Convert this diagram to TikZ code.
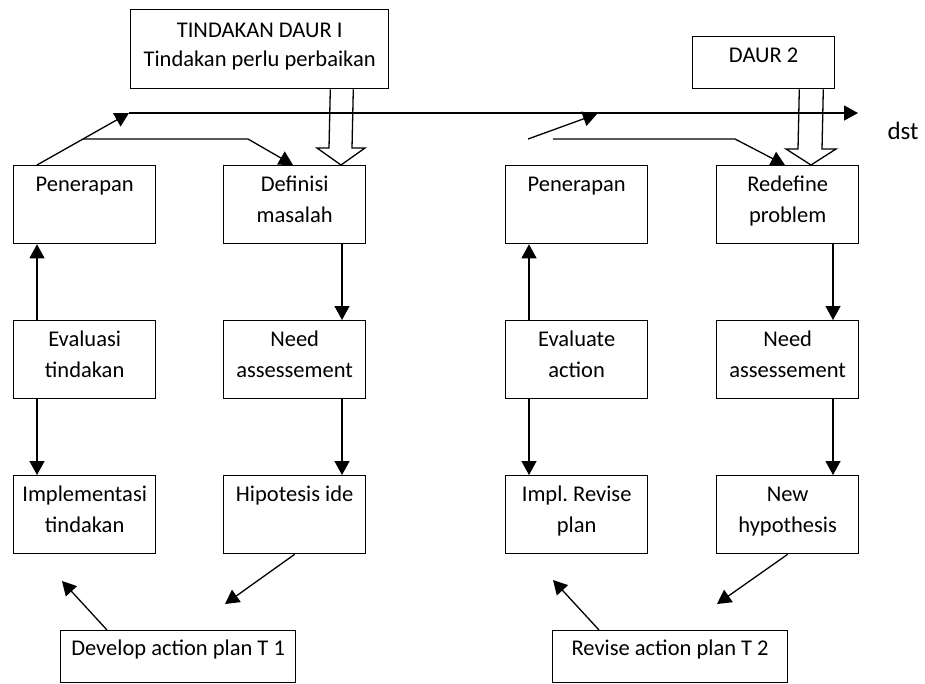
\documentclass[tikz,border=0pt]{standalone}
\usepackage{fontspec}
\setmainfont{Carlito}
\usetikzlibrary{arrows.meta}
\frenchspacing
\newcommand{\bt}[4]{\parbox[c][#2pt][t]{#1pt}{\centering\rule{0pt}{#3pt}#4}}
\begin{document}
\begin{tikzpicture}[x=1pt,y=-1pt,
  font=\fontsize{22.5}{31}\selectfont,
  box/.style={draw,line width=1.3pt,inner sep=0pt,anchor=north west},
  arr/.style={line width=1.3pt,-{Triangle[length=14pt,width=15pt]}},
  blk/.style={line width=1.3pt,line join=miter}]
\useasboundingbox (0,0) rectangle (925,683);
% top boxes
\node[box] (t1) at (130,9) {\bt{258}{79}{28}{TINDAKAN DAUR I\\[-2pt]Tindakan perlu perbaikan}};
\node[box] (d2) at (692,36) {\bt{142}{52}{26}{DAUR 2}};
% row 1
\node[box] (pA) at (13,165) {\bt{142}{78}{26}{Penerapan}};
\node[box] (dB) at (223,165) {\bt{142}{78}{26}{Definisi\\masalah}};
\node[box] (pC) at (505,165) {\bt{142}{78}{26}{Penerapan}};
\node[box] (rD) at (716,165) {\bt{142}{78}{26}{Redefine\\problem}};
% row 2
\node[box] (eA) at (13,320) {\bt{142}{78}{26}{Evaluasi\\tindakan}};
\node[box] (nB) at (223,320) {\bt{142}{78}{26}{Need\\assessement}};
\node[box] (eC) at (505,320) {\bt{142}{78}{26}{Evaluate\\action}};
\node[box] (nD) at (716,320) {\bt{142}{78}{26}{Need\\assessement}};
% row 3
\node[box] (iA) at (13,475) {\bt{142}{78}{26}{Implementasi\\tindakan}};
\node[box] (hB) at (223,475) {\bt{142}{78}{26}{Hipotesis ide}};
\node[box] (iC) at (505,475) {\bt{142}{78}{26}{Impl. Revise\\plan}};
\node[box] (hD) at (716,475) {\bt{142}{78}{26}{New\\hypothesis}};
% bottom
\node[box] (dev) at (60,630) {\bt{235}{52}{25}{Develop action plan T 1}};
\node[box] (rev) at (552,630) {\bt{235}{52}{25}{Revise action plan T 2}};
\node[font=\fontsize{25}{30}\selectfont,anchor=base] (dst) at (903,139) {dst};
% coordinates
\coordinate (a1) at (129,113);
\coordinate (a2) at (858,113);
\coordinate (b1) at (83,139);
\coordinate (b2) at (248,139);
\coordinate (c1) at (528,139);
\coordinate (c2) at (597,114);
\coordinate (e1) at (553,139);
\coordinate (e2) at (735,139);
\coordinate (f1) at (225,604);
\coordinate (f2) at (62,581);
\coordinate (g1) at (717,604);
\coordinate (g2) at (553,580);
% top flow
\draw[arr] ([xshift=24pt]pA.north west) -- (a1);
\draw[arr] (a1) -- (a2);
\draw[arr] (b1) -- (b2) -- ([xshift=70pt]dB.north west);
\draw[arr] (c1) -- (c2);
\draw[arr] (e1) -- (e2) -- ([xshift=69pt]rD.north west);
% block arrows
\draw[blk] ([xshift=-59pt]t1.south east) -- (329,148) -- (317,148) -- (341,165) -- (365,148) -- (352,148) -- ([xshift=-36pt]t1.south east);
\draw[blk] ([xshift=-36pt]d2.south east) -- (798,149) -- (786,149) -- (811,165) -- (836,149) -- (822,149) -- ([xshift=-12pt]d2.south east);
% vertical arrows
\draw[arr] ([xshift=24pt]eA.north west) -- ([xshift=24pt]pA.south west);
\draw[arr] ([xshift=24pt]eA.south west) -- ([xshift=24pt]iA.north west);
\draw[arr] ([xshift=119pt]dB.south west) -- ([xshift=119pt]nB.north west);
\draw[arr] ([xshift=119pt]nB.south west) -- ([xshift=119pt]hB.north west);
\draw[arr] ([xshift=24pt]eC.north west) -- ([xshift=24pt]pC.south west);
\draw[arr] ([xshift=24pt]eC.south west) -- ([xshift=24pt]iC.north west);
\draw[arr] ([xshift=117pt]rD.south west) -- ([xshift=117pt]nD.north west);
\draw[arr] ([xshift=117pt]nD.south west) -- ([xshift=117pt]hD.north west);
% bottom arrows
\draw[arr] (hB.south) -- (f1);
\draw[arr] ([xshift=47pt]dev.north west) -- (f2);
\draw[arr] (hD.south) -- (g1);
\draw[arr] ([xshift=47pt]rev.north west) -- (g2);
\end{tikzpicture}
\end{document}
